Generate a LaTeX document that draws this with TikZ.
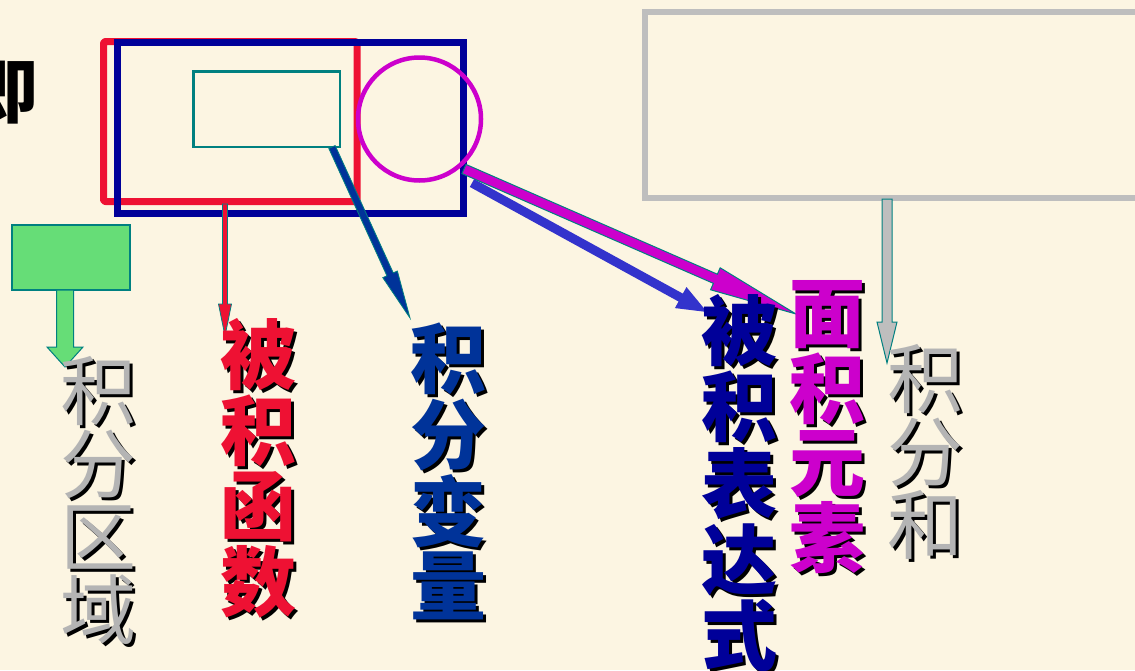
\documentclass[tikz,border=0pt]{standalone}
\usepackage{fontspec}
\newfontfamily\cjk{Noto Sans CJK SC}
\usetikzlibrary{calc}
\definecolor{bg}{RGB}{252,245,226}
\definecolor{myred}{RGB}{238,17,51}
\definecolor{mynavy}{RGB}{0,0,153}
\definecolor{myblue}{RGB}{0,51,153}
\definecolor{mylblue}{RGB}{51,51,204}
\definecolor{myteal}{RGB}{0,128,128}
\definecolor{mymag}{RGB}{204,0,204}
\definecolor{mygray}{RGB}{190,190,190}
\definecolor{mytgray}{RGB}{180,180,180}
\definecolor{mygreen}{RGB}{102,221,119}
\newcommand{\blkarrow}[6]{%
  \coordinate (bkH) at ($(#2)!#5!(#1)$);
  \filldraw[#6] ($(#1)!#3!90:(#2)$) -- ($(bkH)!#3!90:(#2)$) -- ($(bkH)!#4!90:(#2)$) -- (#2)
    -- ($(bkH)!#4!-90:(#2)$) -- ($(bkH)!#3!-90:(#2)$) -- ($(#1)!#3!-90:(#2)$) -- cycle;}
% one character with a black drop shadow behind it
\newcommand{\shc}[1]{\makebox[0pt][l]{\hspace{3pt}\raisebox{-3pt}{\textcolor{black}{#1}}}#1}
\begin{document}
\begin{tikzpicture}[x=1pt,y=-1pt,
  vtext/.style={inner sep=0pt, align=center},
  regfont/.style={font=\cjk\fontsize{76}{73}\selectfont},
  boldfont/.style={font=\cjk\bfseries\fontsize{76}{73}\selectfont},
  frame/.style={line width=7pt, line join=round}]
\useasboundingbox (0,0) rectangle (1135,670);
\fill[bg] (0,0) rectangle (1135,670);
\clip (0,0) rectangle (1135,670);

% partial character at left edge
\node[inner sep=0pt, font=\cjk\bfseries\fontsize{70}{70}\selectfont] (ji) at (4,93) {即};

% rectangles and circle
\draw[frame, myred, rounded corners=2pt] (103.5,41.5) rectangle (357,201.5);
\node[draw=mynavy, line width=7pt, inner sep=0pt, minimum width=345.5pt, minimum height=171pt] (bluebox) at (290.25,128) {};
\draw[myteal, line width=2.5pt] (193.5,71.5) rectangle (340,147);
\draw[mymag, line width=4.5pt] (419.5,119) circle (61.5);
\draw[mygray, line width=6pt] (645,12) rectangle (1150,198);

% green box
\node[draw=myteal, fill=mygreen, line width=1.2pt, inner sep=0pt, minimum width=118pt, minimum height=65pt] (greenbox) at (71,257.5) {};

% connector end points
\coordinate (gA) at (65,290);   \coordinate (gB) at (65,367);
\coordinate (rA) at (225,204);  \coordinate (rB) at (225,336);
\coordinate (nA) at (332,147);  \coordinate (nB) at (410,318);
\coordinate (mA) at (464,169);  \coordinate (mB) at (796,314);
\coordinate (lA) at (472,183);  \coordinate (lB) at (707,312);
\coordinate (yA) at (887,199);  \coordinate (yB) at (887,363);

% arrows
\blkarrow{gA}{gB}{8.5pt}{18pt}{20pt}{fill=mygreen, draw=myteal, line width=1pt}
\blkarrow{rA}{rB}{2.5pt}{6.5pt}{32pt}{fill=myred, draw=myteal, line width=0.8pt}
\blkarrow{nA}{nB}{3.5pt}{8pt}{48pt}{fill=myblue, draw=myteal, line width=0.8pt}
\blkarrow{lA}{lB}{4.5pt}{12pt}{30pt}{fill=mylblue, draw=none}
\blkarrow{mA}{mB}{5pt}{12pt}{88pt}{fill=mymag, draw=myteal, line width=1pt}
\blkarrow{yA}{yB}{5pt}{10pt}{41pt}{fill=mygray, draw=myteal, line width=1pt}

% vertical labels
\node[vtext, regfont, text=mytgray] (t1) at (98,502) {\shc{积}\\\shc{分}\\\shc{区}\\\shc{域}};
\node[vtext, boldfont, text=myred] (t2) at (258,470) {\shc{被}\\\shc{积}\\\shc{函}\\\shc{数}};
\node[vtext, boldfont, text=myblue] (t3) at (448,473) {\shc{积}\\\shc{分}\\\shc{变}\\\shc{量}};
\node[vtext, boldfont, text=mynavy] (t4) at (739,485) {\shc{被}\\\shc{积}\\\shc{表}\\\shc{达}\\\shc{式}};
\node[vtext, boldfont, text=mymag] (t5) at (827,429) {\shc{面}\\\shc{积}\\\shc{元}\\\shc{素}};
\node[vtext, regfont, text=mytgray] (t6) at (925,453) {\shc{积}\\\shc{分}\\\shc{和}};
\end{tikzpicture}
\end{document}
